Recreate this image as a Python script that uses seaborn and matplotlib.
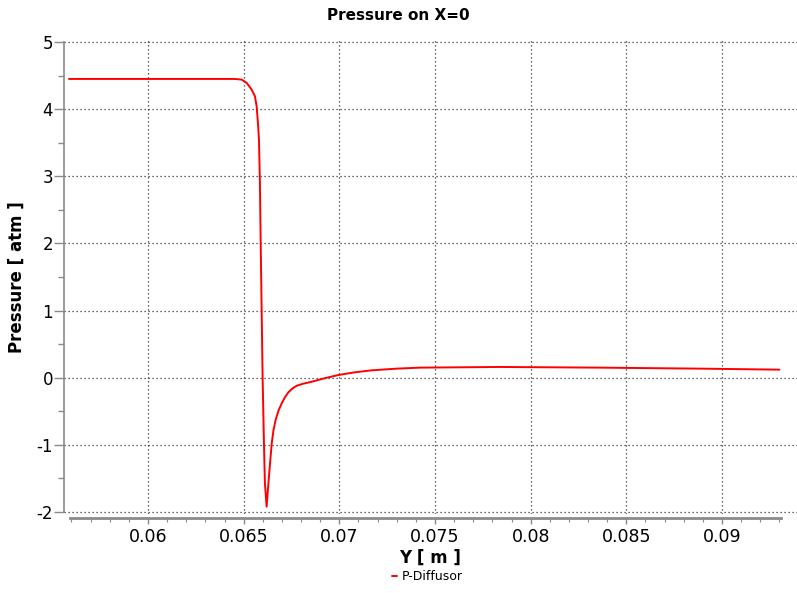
import numpy as np
import pandas as pd
import seaborn as sns
import matplotlib
matplotlib.use("Agg")
import matplotlib.pyplot as plt
from matplotlib.ticker import MultipleLocator

# Position along the line X=0 [m]
y_pos = [0.05587, 0.0600, 0.0640, 0.06455, 0.06490, 0.06516, 0.06542, 0.06559,
         0.06568, 0.06576, 0.06580, 0.06585, 0.06589, 0.06594, 0.06599, 0.06606,
         0.06611, 0.06620, 0.06630, 0.06638, 0.06647, 0.06656, 0.06667, 0.06682,
         0.06699, 0.06716, 0.06733, 0.06755, 0.06777, 0.06810, 0.06856, 0.06920,
         0.06995, 0.07080, 0.07169, 0.07300, 0.07422, 0.0784, 0.0836, 0.0889, 0.0930]
# Pressure [atm]
pressure = [4.45, 4.45, 4.45, 4.45, 4.44, 4.39, 4.29, 4.19,
            4.04, 3.74, 3.54, 2.90, 2.01, 1.01, 0.01, -0.97,
            -1.57, -1.92, -1.55, -1.27, -0.97, -0.78, -0.63, -0.49,
            -0.38, -0.29, -0.22, -0.16, -0.12, -0.09, -0.06, -0.01,
            0.04, 0.08, 0.11, 0.135, 0.15, 0.16, 0.15, 0.135, 0.12]
series_name = "P-Diffusor"
x_ticks = [0.06, 0.065, 0.07, 0.075, 0.08, 0.085, 0.09]
x_tick_labels = ["0.06", "0.065", "0.07", "0.075", "0.08", "0.085", "0.09"]
y_ticks = [-2, -1, 0, 1, 2, 3, 4, 5]

df = pd.DataFrame({"Y": y_pos, "Pressure": pressure, "series": series_name})

sns.set_theme(style="white")
plt.rcParams["font.family"] = ["DejaVu Sans"]
plt.rcParams["axes.unicode_minus"] = False
plt.rcParams["text.color"] = "black"
plt.rcParams["axes.labelcolor"] = "black"
plt.rcParams["xtick.color"] = "black"
plt.rcParams["ytick.color"] = "black"

fig = plt.figure(figsize=(7.97, 5.93), dpi=100)
ax = fig.add_axes([64 / 797, 1 - 514 / 593, 1 - 64 / 797, 474 / 593])

sns.lineplot(data=df, x="Y", y="Pressure", hue="series", palette=["#ff0000"],
             linewidth=1.4, ax=ax, legend=False, sort=False)

ax.set_xlim(0.05561, 0.09392)
ax.set_ylim(-2.03, 5.03)

ax.set_xticks(x_ticks)
ax.set_xticklabels(x_tick_labels)
ax.set_yticks(y_ticks)
ax.xaxis.set_minor_locator(MultipleLocator(0.001))
ax.yaxis.set_minor_locator(MultipleLocator(0.5))

ax.grid(True, which="major", color="#333333", linestyle=(0, (1, 2.2)), linewidth=0.9)

for side in ("top", "right"):
    ax.spines[side].set_visible(False)
ax.spines["left"].set_color("#8a8a8a")
ax.spines["left"].set_linewidth(1.2)
ax.spines["left"].set_bounds(-2, 5)
ax.spines["bottom"].set_color("#8a8a8a")
ax.spines["bottom"].set_linewidth(2.0)
ax.spines["bottom"].set_position(("outward", 3))
ax.spines["bottom"].set_bounds(0.0559, 0.0931)

ax.tick_params(axis="y", which="major", direction="out", length=7, width=1,
               color="#8a8a8a", labelsize=12, pad=1, left=True)
ax.tick_params(axis="y", which="minor", direction="out", length=4, width=1,
               color="#8a8a8a", left=True)
ax.tick_params(axis="x", which="major", direction="out", length=4, width=1,
               color="#8a8a8a", labelsize=11.5, pad=3, bottom=True)
ax.tick_params(axis="x", which="minor", direction="out", length=3, width=0.8,
               color="#8a8a8a", bottom=True)
for lab in ax.get_xticklabels():
    lab.set_family(["Liberation Sans Narrow", "DejaVu Sans"])
    lab.set_fontsize(12.5)

ax.set_xlabel("Y [ m ]", fontsize=12, fontweight="bold", labelpad=2)
ax.set_ylabel("Pressure [ atm ]", fontsize=12, fontweight="bold", labelpad=8)
fig.text(0.5, 1 - 15 / 593, "Pressure on X=0", ha="center", va="center",
         fontsize=11, fontweight="bold")

handle = plt.Line2D([], [], color="#ff0000", linewidth=1.4)
fig.legend([handle], [series_name], loc="center", bbox_to_anchor=(427 / 797, 1 - 577 / 593),
           frameon=False, fontsize=9, handlelength=0.4, handletextpad=0.4)

fig.savefig("out.png", dpi=100)
